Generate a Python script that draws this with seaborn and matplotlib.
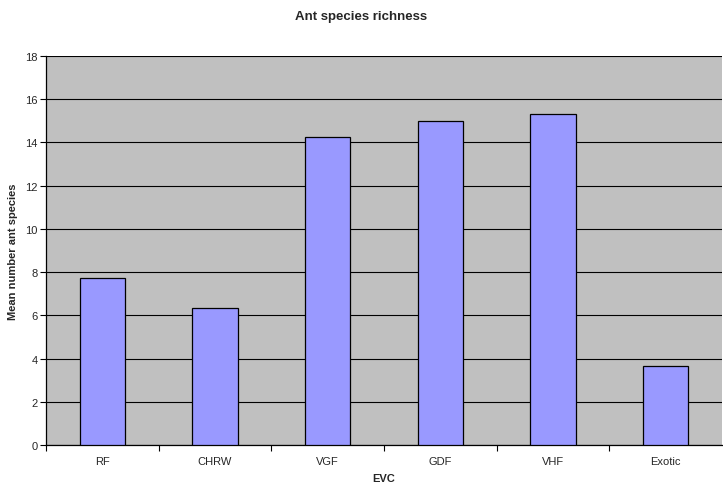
import matplotlib
matplotlib.use("Agg")
import matplotlib.pyplot as plt
import seaborn as sns
import pandas as pd

# Chart data
evc = ["RF", "CHRW", "VGF", "GDF", "VHF", "Exotic"]
mean_species = [7.75, 6.33, 14.25, 15.0, 15.33, 3.67]
y_ticks = [0, 2, 4, 6, 8, 10, 12, 14, 16, 18]

df = pd.DataFrame({"EVC": evc, "species": mean_species})

sns.set_theme(style="white")
plt.rcParams["font.family"] = ["Liberation Sans", "DejaVu Sans"]

fig = plt.figure(figsize=(7.23, 4.85), dpi=100)
ax = fig.add_axes([46 / 723, 1 - 446 / 485, 676 / 723, 389 / 485])

sns.barplot(data=df, x="EVC", y="species", color="#9999FF",
            saturation=1, width=0.4, edgecolor="black", linewidth=0.9,
            zorder=3, ax=ax)

ax.set_facecolor("#C0C0C0")
ax.set_ylim(0, 18)
ax.set_xlim(-0.5, len(evc) - 0.5)
ax.set_yticks(y_ticks)
ax.yaxis.grid(True, color="black", linewidth=0.8, zorder=0)
ax.set_axisbelow(True)

for side in ["top", "right"]:
    ax.spines[side].set_visible(False)
for side in ["left", "bottom"]:
    ax.spines[side].set_color("black")
    ax.spines[side].set_linewidth(0.9)

# category labels centered, ticks between categories
ax.set_xticks(range(len(evc)))
ax.set_xticklabels(evc)
ax.set_xticks([i + 0.5 for i in range(len(evc) - 1)] + [-0.5], minor=True)
ax.tick_params(axis="x", which="major", length=0, labelsize=8, pad=8)
ax.tick_params(axis="x", which="minor", bottom=True, length=4, width=0.8,
               color="black", direction="out")
ax.tick_params(axis="y", left=True, length=4, width=0.8, color="black",
               direction="out", labelsize=8, pad=2)

ax.set_xlabel("EVC", fontsize=8, fontweight="bold", labelpad=5)
ax.set_ylabel("Mean number ant species", fontsize=8, fontweight="bold",
              labelpad=5)
fig.suptitle("Ant species richness", fontsize=9.5, fontweight="bold",
             y=1 - 11 / 485)

fig.savefig("out.png", dpi=100, facecolor="white")
